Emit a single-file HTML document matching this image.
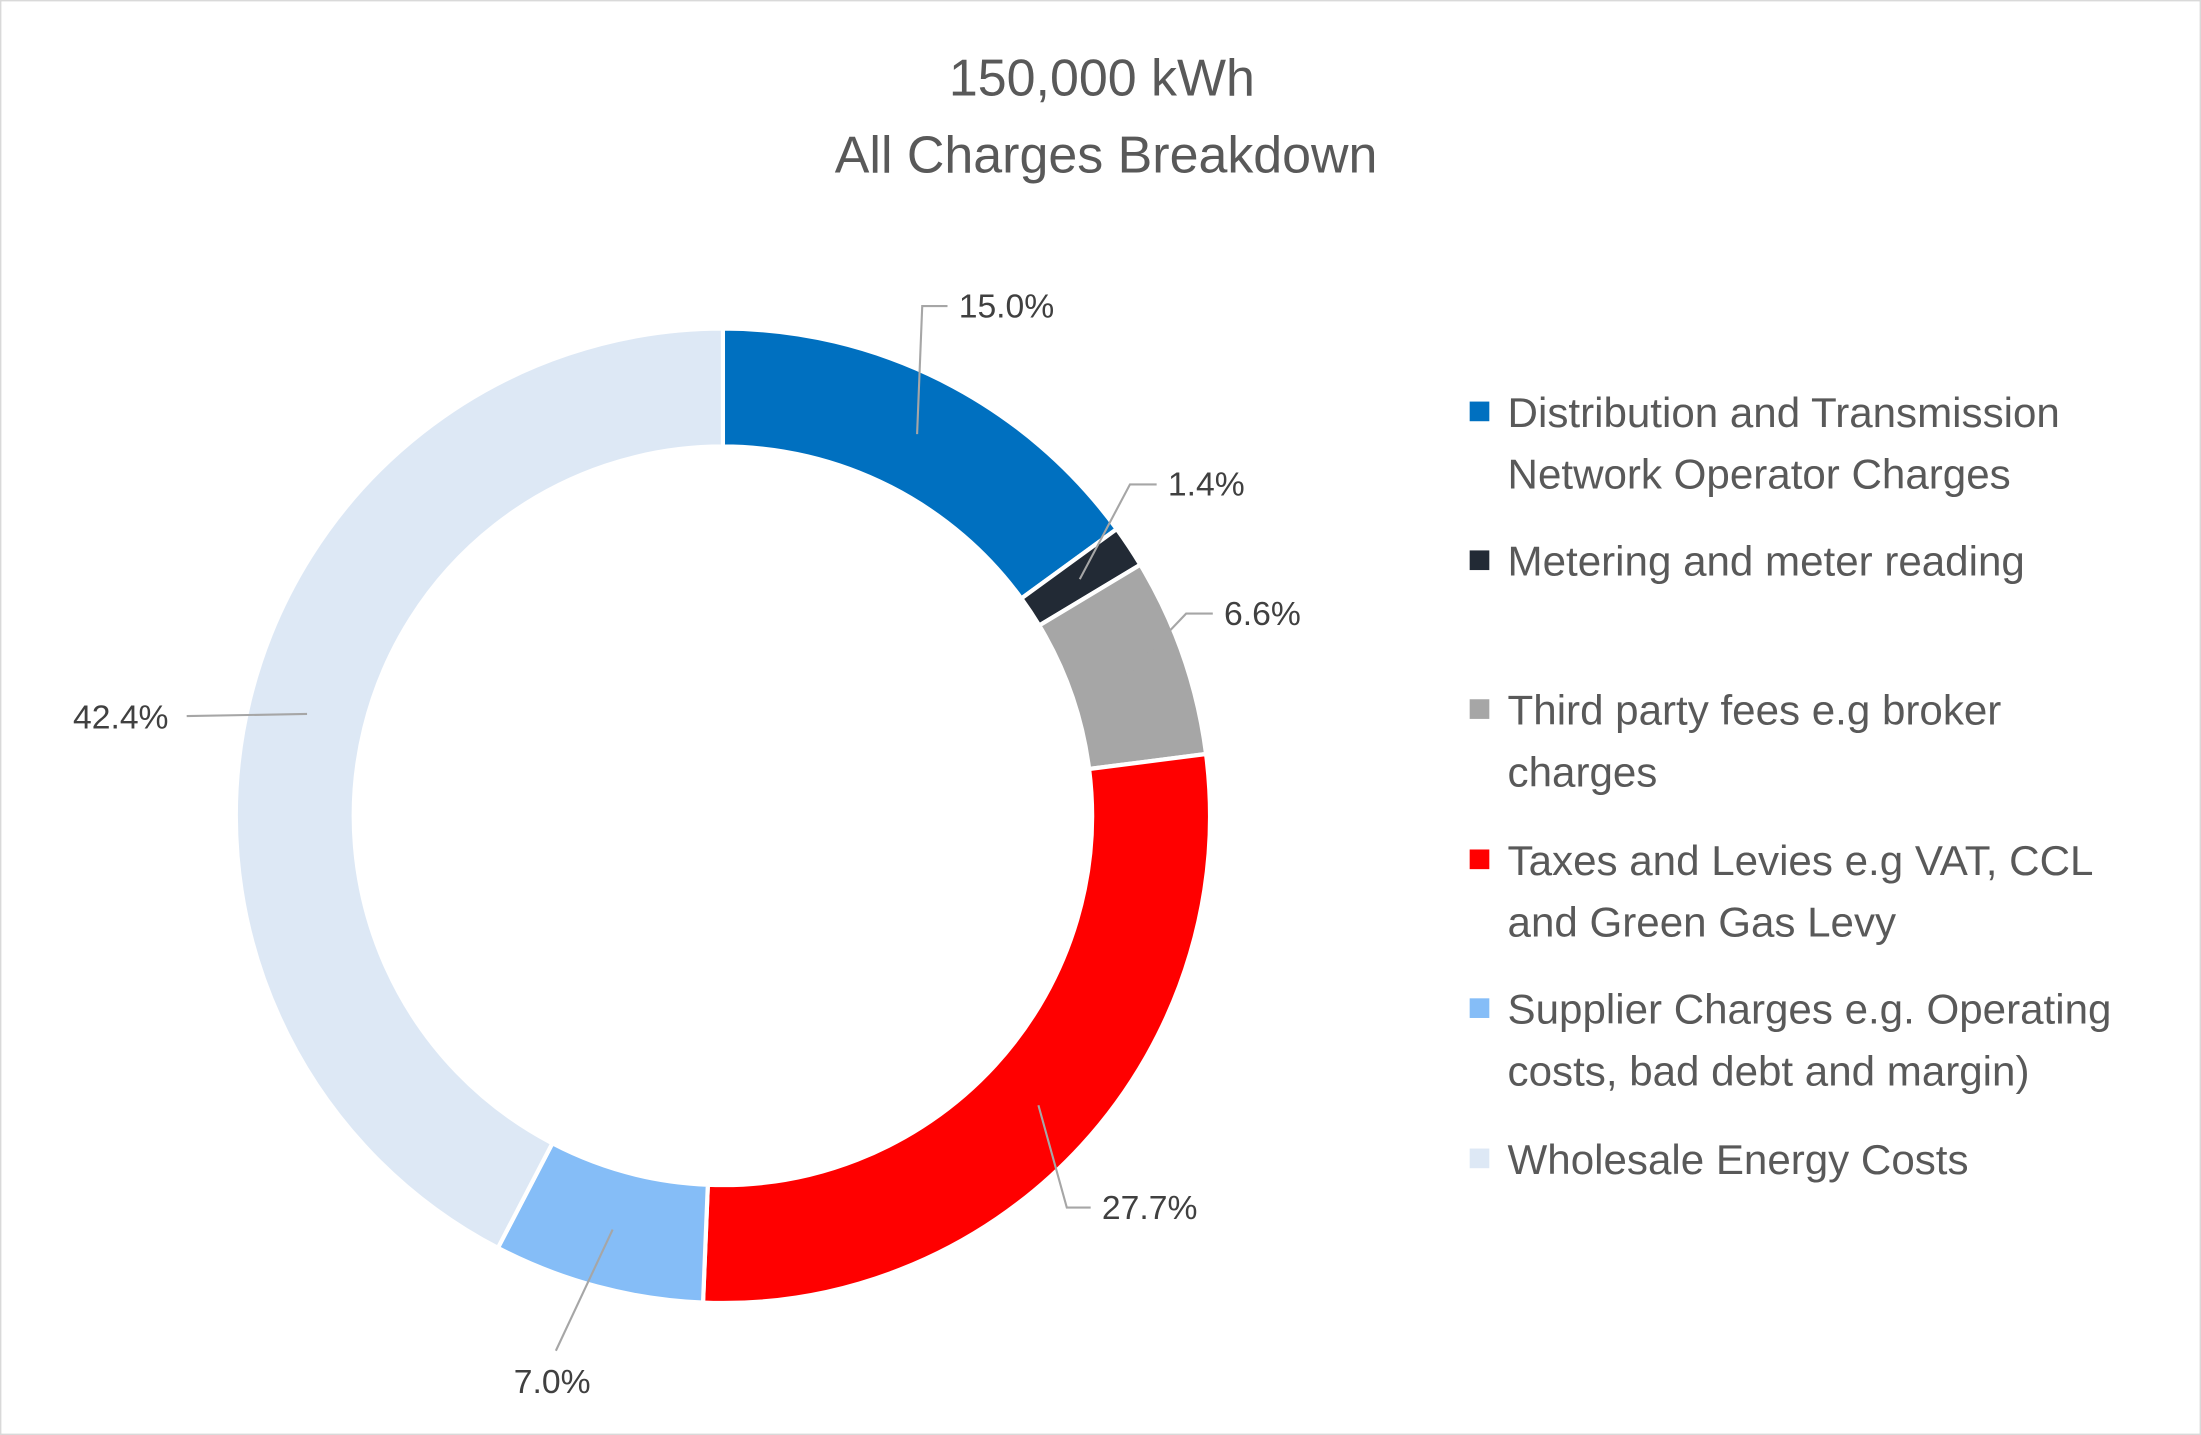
<!DOCTYPE html>
<html><head><meta charset="utf-8"><style>
html,body{margin:0;padding:0;background:#fff;}
svg{display:block;font-family:"Liberation Sans",Calibri,sans-serif;}
</style></head><body>
<svg id="chart" width="2201" height="1435" viewBox="0 0 1568 1022" preserveAspectRatio="none" xmlns="http://www.w3.org/2000/svg">
<rect x="0.5" y="0.5" width="1567" height="1021" fill="#fff" stroke="#d9d9d9" stroke-width="1"/>
<text x="785" y="68" text-anchor="middle" font-size="37" fill="#595959">150,000 kWh</text>
<text x="788" y="123" text-anchor="middle" font-size="37" fill="#595959">All Charges Breakdown</text>
<g id="slices"></g>
<g id="labels"></g>
<g id="legend"></g>
</svg>
<script>
const categories=["Distribution and Transmission|Network Operator Charges","Metering and meter reading","Third party fees e.g broker|charges","Taxes and Levies e.g VAT, CCL|and Green Gas Levy","Supplier Charges e.g. Operating|costs, bad debt and margin)","Wholesale Energy Costs"];
const values=[15.0,1.4,6.6,27.7,7.0,42.4];
const valueLabels=["15.0%","1.4%","6.6%","27.7%","7.0%","42.4%"];
const colors=["#0070c0","#222a35","#a6a6a6","#ff0000","#85bdf7","#dde8f5"];
const cx=515,cy=581,R=347,r=263;
const labelPos=[[683,226],[832,353],[872,445],[785,868],[366,992],[52,519]];
const elbow=[[657,218],[805,345],[845,437],[760,860],[396,962],[133,510]];
const NS="http://www.w3.org/2000/svg";
const total=values.reduce((a,b)=>a+b,0);
const sg=document.getElementById('slices'),lg=document.getElementById('labels'),leg=document.getElementById('legend');
function pt(a,rad){return [cx+rad*Math.sin(a),cy-rad*Math.cos(a)];}
let acc=0;
values.forEach((v,i)=>{
 const a0=acc/total*2*Math.PI;acc+=v;const a1=acc/total*2*Math.PI;
 const big=(a1-a0)>Math.PI?1:0;
 const p0=pt(a0,R),p1=pt(a1,R),q1=pt(a1,r),q0=pt(a0,r);
 const p=document.createElementNS(NS,'path');
 p.setAttribute('d',`M${p0[0]},${p0[1]} A${R},${R} 0 ${big} 1 ${p1[0]},${p1[1]} L${q1[0]},${q1[1]} A${r},${r} 0 ${big} 0 ${q0[0]},${q0[1]} Z`);
 p.setAttribute('fill',colors[i]);p.setAttribute('stroke','#fff');p.setAttribute('stroke-width','3');
 
 
 sg.appendChild(p);
 const am=(a0+a1)/2,s=pt(am,(R+r)/2);
 const e=elbow[i],lp=labelPos[i];
 const endX=lp[0]<e[0]?e[0]:lp[0]-8;
 const l=document.createElementNS(NS,'polyline');
 l.setAttribute('points',`${s[0]},${s[1]} ${e[0]},${e[1]} ${i==4?e[0]:(lp[0]<cx?lp[0]+82:lp[0]-8)},${e[1]}`);
 l.setAttribute('fill','none');l.setAttribute('stroke','#a6a6a6');l.setAttribute('stroke-width','1.5');
 
 
 lg.appendChild(l);
 const t=document.createElementNS(NS,'text');
 t.setAttribute('x',lp[0]);t.setAttribute('y',lp[1]);t.setAttribute('font-size','24');t.setAttribute('fill','#404040');
 t.textContent=valueLabels[i];
 
 
 lg.appendChild(t);
});
const legY=[293,399,505,612,718,825];
categories.forEach((c,i)=>{
 const sq=document.createElementNS(NS,'rect');
 sq.setAttribute('x',1047);sq.setAttribute('y',legY[i]-7);sq.setAttribute('width',14);sq.setAttribute('height',14);sq.setAttribute('fill',colors[i]);
 
 
 leg.appendChild(sq);
 c.split('|').forEach((line,j)=>{
  const t=document.createElementNS(NS,'text');
  t.setAttribute('x',1074);t.setAttribute('y',legY[i]+11+j*44);t.setAttribute('font-size','30');t.setAttribute('fill','#595959');
  t.textContent=line;
  
  
  leg.appendChild(t);
 });
});
</script>
</body></html>
